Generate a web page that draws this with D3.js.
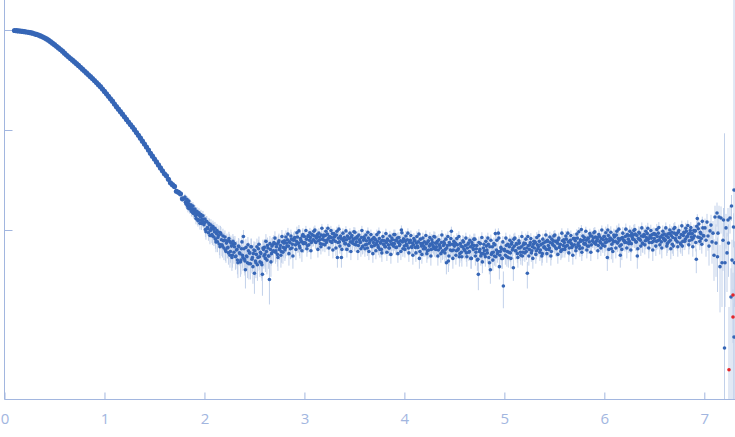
<!DOCTYPE html>
<html>
<head>
<meta charset="utf-8">
<script src="https://cdn.jsdelivr.net/npm/d3@7"></script>
<style>
  html, body { margin: 0; padding: 0; background: #fff; }
  svg { display: block; }
</style>
</head>
<body>
<div id="chart"></div>
<script>
// scattering curve, intensity relative to I(0) = 1000

// low q part, sampled every 0.02
const smoothQ0 = 0.10, smoothStep = 0.02;
const smoothI = [
  988, 984, 979, 975, 968, 962, 955, 948, 940, 929,
  916, 904, 889, 873, 855, 836, 815, 791, 764, 738,
  713, 687, 662, 638, 614, 587, 562, 540, 519, 499,
  479, 460, 442, 424, 406, 389, 372, 356, 341, 327,
  312, 298, 284, 271, 257, 243, 230, 217, 205, 194,
  182, 171, 161.4, 152.4, 143.9, 135.5, 127.6, 120.2, 113.2, 106.9,
  100.7, 94.4, 88.5, 82.8, 77.4, 72.4, 67.6, 63.0, 58.5, 54.7,
  51.2, 47.9, 44.7, 41.8, 39.1, 36.5, 34.8, 32.1, 29.6, 28.4,
  27.3, 24.4, 23.8, 23.0, 20.5
];

// noisy part from q = 1.80 to 6.99, sampled every 0.01
const noisyQ0 = 1.80, noisyStep = 0.01;
const noisyI = [
  20.6, 18.9, 19.3, 17.5, 18.4, 16.2, 17.3, 15.4, 16.3, 14.6,
  15.3, 13.9, 14.6, 12.8, 14.1, 12.6, 13.5, 11.6, 12.9, 12.1,
  11.8, 10.1, 12.2, 10.6, 9.4, 11.3, 9.9, 10.4, 8.7, 10.2,
  9.6, 8.1, 9.2, 7.6, 8.8, 7.2, 9.4, 8.0, 6.9, 7.8,
  7.9, 6.3, 7.4, 6.6, 5.9, 7.7, 6.1, 6.9, 5.6, 7.2,
  6.8, 5.4, 6.3, 5.0, 6.9, 5.9, 4.8, 6.5, 5.6, 8.6,
  5.1, 4.0, 5.5, 4.7, 6.2, 5.9, 4.6, 6.8, 5.3, 5.8,
  3.7, 4.9, 5.7, 4.5, 6.5, 5.4, 6.0, 4.7, 3.6, 6.4,
  6.7, 5.2, 6.1, 7.0, 5.5, 3.2, 6.4, 5.8, 7.1, 6.2,
  7.3, 6.0, 6.8, 5.7, 7.5, 6.4, 7.0, 6.1, 7.6, 6.7,
  7.8, 6.6, 7.4, 8.0, 6.9, 7.6, 6.5, 8.1, 7.2, 7.9,
  8.3, 7.1, 7.7, 8.5, 7.4, 6.9, 8.2, 7.6, 8.7, 7.3,
  8.6, 7.4, 8.1, 7.0, 8.8, 7.9, 8.4, 7.5, 8.9, 8.0,
  8.7, 7.6, 8.3, 9.0, 7.8, 8.5, 7.3, 8.9, 8.1, 8.6,
  7.9, 8.8, 7.5, 9.1, 8.2, 8.6, 7.7, 8.4, 9.2, 8.0,
  8.5, 7.7, 8.9, 5.3, 8.3, 7.6, 8.7, 5.3, 8.1, 7.8,
  8.4, 7.3, 8.0, 8.7, 7.1, 8.2, 7.6, 8.5, 7.4, 8.1,
  7.2, 8.3, 7.6, 8.6, 7.0, 8.0, 7.5, 8.4, 6.8, 7.9,
  8.2, 7.1, 7.8, 6.6, 8.3, 7.4, 7.9, 6.9, 8.1, 7.5,
  7.0, 8.0, 7.3, 7.7, 6.7, 8.2, 7.4, 6.4, 7.9, 7.2,
  7.8, 6.8, 7.5, 8.1, 7.1, 6.6, 7.7, 7.2, 8.0, 6.9,
  7.3, 7.9, 6.7, 8.3, 7.5, 7.0, 7.8, 10.0, 7.6, 8.1,
  6.9, 7.7, 7.2, 8.0, 6.6, 7.5, 7.9, 6.8, 7.4, 7.1,
  7.8, 6.7, 7.4, 6.9, 7.6, 5.2, 8.1, 6.9, 7.3, 6.5,
  7.6, 6.6, 7.3, 6.2, 7.8, 6.9, 7.2, 6.4, 7.5, 6.8,
  6.5, 7.4, 6.8, 7.7, 6.3, 7.1, 6.6, 7.5, 6.1, 7.0,
  7.3, 6.4, 4.7, 7.0, 4.9, 7.5, 6.3, 9.7, 7.2, 6.3,
  6.9, 7.4, 6.2, 7.1, 6.5, 5.4, 7.3, 6.0, 6.8, 7.6,
  6.3, 7.0, 5.9, 6.6, 7.4, 6.1, 6.8, 5.2, 7.1, 6.4,
  7.0, 5.5, 6.5, 5.0, 3.6, 6.1, 7.3, 5.8, 4.8, 6.6,
  6.2, 5.4, 6.9, 5.9, 7.2, 4.7, 4.0, 5.7, 6.8, 6.0,
  5.5, 9.2, 6.3, 5.8, 9.3, 4.3, 6.1, 6.5, 5.2, 2.75,
  6.4, 5.6, 7.0, 6.1, 5.3, 6.8, 5.9, 7.2, 6.3, 4.2,
  6.9, 6.2, 7.3, 5.8, 6.6, 7.4, 6.0, 6.8, 5.5, 7.1,
  6.5, 7.3, 6.1, 3.7, 7.0, 6.4, 7.5, 5.9, 6.8, 7.2,
  6.6, 7.5, 6.2, 7.1, 6.8, 7.7, 6.3, 7.2, 5.8, 7.4,
  6.8, 7.6, 6.4, 7.9, 7.0, 6.6, 7.5, 6.1, 7.3, 7.8,
  6.9, 7.7, 6.5, 7.4, 8.0, 6.7, 7.2, 6.3, 7.8, 7.0,
  7.5, 6.8, 8.1, 7.0, 7.6, 6.6, 7.9, 7.3, 6.9, 8.2,
  7.1, 7.8, 6.7, 8.3, 7.4, 6.9, 8.0, 10.1, 6.6, 7.9,
  8.4, 7.3, 7.9, 6.9, 8.2, 7.6, 8.7, 7.1, 7.8, 8.3,
  7.4, 8.5, 7.7, 8.1, 7.0, 8.6, 7.5, 8.2, 7.2, 8.0,
  8.6, 7.5, 8.1, 5.3, 8.8, 7.8, 8.3, 6.5, 8.0, 7.6,
  8.5, 7.7, 8.9, 7.4, 8.2, 7.9, 5.6, 7.1, 8.4, 8.0,
  7.8, 8.6, 7.5, 9.0, 8.1, 7.7, 8.8, 7.3, 8.4, 8.9,
  8.0, 9.1, 7.6, 5.5, 8.2, 9.3, 7.9, 8.7, 7.4, 8.6,
  8.9, 7.8, 8.4, 9.2, 8.1, 7.5, 8.8, 8.3, 9.0, 7.7,
  8.2, 9.0, 7.7, 8.6, 9.3, 8.0, 8.5, 7.6, 8.9, 8.3,
  9.1, 8.0, 8.7, 7.3, 8.4, 9.2, 7.9, 8.8, 7.2, 6.9,
  9.3, 8.2, 8.9, 7.6, 9.5, 8.4, 7.4, 9.0, 6.9, 8.8,
  9.4, 8.1, 9.7, 8.6, 9.1, 7.8, 9.9, 8.5, 9.2, 8.3,
  8.7, 9.8, 5.1, 13.0, 10.3, 8.4, 9.5, 8.2, 12.2, 8.8
];

// the points in between, q = 1.805 to 6.995
const midQ0 = 1.805, midStep = 0.01;
const midI = [
  21.4, 18.2, 20.3, 16.6, 19.5, 16.8, 17.9, 15.1, 17.4, 15.9,
  16.2, 13.0, 15.4, 12.4, 14.9, 11.7, 14.3, 12.2, 13.9, 11.3,
  12.9, 9.6, 12.1, 10.3, 11.6, 8.8, 11.2, 9.0, 10.8, 8.5,
  10.4, 7.6, 9.9, 8.4, 9.5, 6.8, 9.1, 7.1, 8.7, 6.6,
  8.5, 6.1, 7.8, 6.7, 8.2, 5.6, 7.4, 5.3, 7.7, 6.0,
  7.3, 5.5, 6.4, 4.7, 6.8, 5.8, 5.0, 7.6, 5.3, 6.5,
  4.9, 6.7, 5.4, 7.1, 4.6, 5.9, 6.8, 5.1, 4.3, 6.3,
  6.2, 4.7, 6.8, 5.3, 7.2, 4.8, 5.8, 4.5, 6.6, 5.5,
  5.7, 7.7, 5.0, 6.6, 5.5, 7.3, 4.8, 6.9, 6.1, 7.5,
  8.3, 6.2, 7.2, 5.3, 7.8, 6.6, 5.6, 8.6, 6.0, 7.4,
  6.3, 8.5, 6.9, 9.1, 5.8, 7.5, 8.7, 6.6, 5.5, 8.1,
  8.4, 6.4, 9.4, 7.3, 9.8, 6.6, 7.9, 6.2, 9.0, 7.5,
  7.4, 9.9, 6.5, 8.6, 7.1, 9.4, 6.2, 9.0, 7.9, 9.7,
  10.0, 7.5, 8.7, 6.4, 9.3, 8.0, 6.8, 10.4, 7.2, 8.9,
  7.1, 9.7, 7.9, 10.4, 6.6, 8.5, 9.9, 7.5, 6.3, 9.2,
  8.7, 6.6, 9.7, 7.5, 10.2, 6.9, 8.2, 6.4, 9.3, 7.8,
  7.3, 9.8, 6.4, 8.5, 7.0, 9.3, 6.1, 8.8, 7.8, 9.6,
  9.5, 7.1, 8.3, 6.1, 8.9, 7.6, 6.5, 9.9, 6.9, 8.5,
  6.5, 8.9, 7.2, 9.5, 6.1, 7.8, 9.0, 6.8, 5.8, 8.4,
  8.1, 6.2, 9.0, 7.0, 9.5, 6.4, 7.6, 5.9, 8.6, 7.2,
  6.8, 9.2, 6.0, 7.9, 6.6, 8.7, 5.7, 8.3, 7.3, 9.0,
  9.0, 6.7, 7.8, 5.8, 8.4, 7.2, 6.1, 9.4, 6.5, 8.1,
  6.4, 8.7, 7.0, 9.3, 5.9, 7.6, 8.8, 6.7, 5.6, 8.2,
  7.8, 5.9, 8.6, 6.7, 9.1, 6.1, 7.3, 5.7, 8.3, 6.9,
  6.5, 8.8, 5.8, 7.6, 6.3, 8.4, 5.5, 8.0, 7.0, 8.6,
  8.5, 6.4, 7.4, 5.5, 8.0, 6.8, 5.8, 8.9, 6.2, 7.6,
  5.9, 8.1, 6.6, 8.6, 5.5, 7.1, 8.2, 6.2, 5.2, 7.7,
  7.3, 5.6, 8.2, 6.3, 8.6, 5.8, 6.9, 5.4, 7.8, 6.5,
  6.2, 8.3, 5.4, 7.2, 6.0, 7.9, 5.2, 7.5, 6.6, 8.1,
  8.1, 6.0, 7.0, 5.1, 7.5, 6.4, 5.5, 8.4, 5.8, 7.2,
  5.7, 7.7, 6.3, 8.3, 5.3, 6.8, 7.9, 5.9, 5.0, 7.3,
  7.1, 5.4, 7.9, 6.1, 8.3, 5.6, 6.7, 5.2, 7.6, 6.3,
  6.2, 8.3, 5.4, 7.2, 6.0, 7.9, 5.2, 7.5, 6.6, 8.1,
  8.3, 6.2, 7.2, 5.3, 7.8, 6.6, 5.6, 8.6, 6.0, 7.4,
  5.9, 8.1, 6.6, 8.6, 5.5, 7.1, 8.2, 6.2, 5.2, 7.7,
  7.6, 5.7, 8.4, 6.5, 8.8, 6.0, 7.1, 5.5, 8.1, 6.7,
  6.6, 8.9, 5.8, 7.7, 6.4, 8.5, 5.5, 8.1, 7.1, 8.7,
  8.9, 6.6, 7.7, 5.7, 8.3, 7.1, 6.1, 9.3, 6.4, 8.0,
  6.4, 8.7, 7.0, 9.3, 5.9, 7.6, 8.8, 6.7, 5.6, 8.2,
  8.2, 6.2, 9.1, 7.1, 9.6, 6.5, 7.7, 6.0, 8.7, 7.3,
  7.2, 9.7, 6.3, 8.3, 6.9, 9.2, 6.0, 8.7, 7.7, 9.4,
  9.6, 7.2, 8.4, 6.2, 9.0, 7.7, 6.6, 10.0, 7.0, 8.6,
  6.9, 9.4, 7.6, 10.0, 6.4, 8.2, 9.5, 7.2, 6.1, 8.9,
  8.7, 6.6, 9.7, 7.5, 10.2, 6.9, 8.2, 6.4, 9.3, 7.8,
  7.5, 10.2, 6.6, 8.8, 7.3, 9.7, 6.3, 9.2, 8.1, 9.9,
  10.1, 7.6, 8.8, 6.5, 9.5, 8.1, 6.9, 10.5, 7.3, 9.0,
  7.1, 9.7, 7.9, 10.4, 6.6, 8.5, 9.9, 7.5, 6.3, 9.2,
  9.1, 6.9, 10.1, 7.8, 10.6, 7.1, 8.5, 6.6, 9.7, 8.1,
  7.8, 10.5, 6.9, 9.1, 7.6, 10.0, 6.5, 9.5, 8.4, 10.3,
  10.6, 7.9, 9.2, 6.8, 9.9, 8.4, 7.2, 11.0, 7.7, 9.5,
  7.7, 10.4, 8.5, 11.1, 7.1, 9.2, 10.6, 8.0, 6.8, 9.9,
  9.8, 7.5, 10.9, 8.5, 11.5, 7.7, 9.2, 7.2, 10.5, 8.7
];

// absolute error of the main curve, by q range
const sigmaEdges = [0.10, 1.00, 1.50, 1.80, 2.20, 3.00, 6.00];
const sigmaVals  = [3.0, 1.5, 1.2, 1.6, 1.4, 1.1, 1.4];

// high q end, read point by point
const tailQ = [
  7.007, 7.017, 7.027, 7.037, 7.047, 7.057, 7.067, 7.077, 7.087, 7.097,
  7.107, 7.117, 7.127, 7.132, 7.137, 7.147, 7.157, 7.167, 7.177, 7.187,
  7.192, 7.202, 7.207, 7.217, 7.227, 7.237, 7.242, 7.247, 7.257, 7.267,
  7.272, 7.277, 7.287, 7.287, 7.292, 7.297, 7.297, 7.302
];
const tailI = [
  10.5, 7.9, 12.0, 8.7, 6.9, 9.8, 11.2, 7.6, 9.3, 5.6,
  13.5, 7.4, 14.8, 5.4, 9.3, 13.5, 4.3, 13.2, 4.7, 7.9,
  12.6, 0.66, 4.7, 10.5, 5.9, 12.6, 7.4, 0.40, 13.2, 2.14,
  17.4, 5.0, 2.24, 1.35, 10.7, 25.1, 0.85, 4.7
];
const tailErr = [
  2.5, 2.5, 2.5, 2.5, 2.5, 2.5, 3, 3, 3, 2.5,
  4, 4, 4, 3, 4, 4, 2.8, 4, 3, 4,
  4, 92, 3, 4, 3.5, 4, 4, 1.3, 4, 2,
  5, 3, 1.5, 1.2, 4, 3000, 1, 3
];
const tailRed = [
  0, 0, 0, 0, 0, 0, 0, 0, 0, 0,
  0, 0, 0, 0, 0, 0, 0, 0, 0, 0,
  0, 0, 0, 0, 0, 0, 0, 1, 0, 0,
  0, 0, 1, 1, 0, 0, 0, 0
];

const xTicks = [0, 1, 2, 3, 4, 5, 6, 7];
const yTicks = [1000, 100, 10];

let
    width = 735,
    height = 437,
    left = 4.5,
    bottom = 399.5,
    blue = '#3666b6',
    red = '#e3262b',
    errColor = '#c2d1ea',
    axisColor = '#a2b6df';

function sigmaAt(q) {
    let s = sigmaVals[0];
    for (let i = 0; i < sigmaEdges.length; i++) {
        if (q >= sigmaEdges[i]) s = sigmaVals[i];
    }
    return s;
}

let points = [];
smoothI.forEach((v, i) => {
    let q = smoothQ0 + i * smoothStep;
    points.push({ q: q, I: v, e: sigmaAt(q), r: 2.6, red: false });
});
noisyI.forEach((v, i) => {
    let q = noisyQ0 + i * noisyStep;
    points.push({ q: q, I: v, e: sigmaAt(q), r: 1.8, red: false });
});
midI.forEach((v, i) => {
    let q = midQ0 + i * midStep;
    points.push({ q: q, I: v, e: sigmaAt(q), r: 1.8, red: false });
});
tailQ.forEach((q, i) => {
    points.push({ q: q, I: tailI[i], e: tailErr[i], r: 1.8, red: tailRed[i] === 1 });
});

let x = d3.scaleLinear().domain([0, 7.307]).range([left, width]);
let y = d3.scaleLog().domain([Math.pow(10, -0.695), Math.pow(10, 3.3)]).range([bottom, 0]);

let svg = d3.select('#chart')
    .append('svg')
    .attr('width', width)
    .attr('height', height);

function yClamp(v) {
    if (v <= 0) return bottom;
    return Math.max(0, Math.min(bottom, y(v)));
}

// error bars
svg.append('g')
    .selectAll('line')
    .data(points)
    .join('line')
    .attr('x1', d => x(d.q))
    .attr('x2', d => x(d.q))
    .attr('y1', d => yClamp(d.I + d.e))
    .attr('y2', d => yClamp(d.I - d.e))
    .style('stroke', errColor)
    .style('stroke-width', 1);

// axes
let xAxis = svg.append('g')
    .attr('transform', `translate(0,${bottom})`)
    .call(d3.axisBottom(x).tickValues(xTicks).tickSizeInner(-7).tickSizeOuter(0).tickPadding(14).tickFormat(d3.format('d')));

let yAxis = svg.append('g')
    .attr('transform', `translate(${left},0)`)
    .call(d3.axisLeft(y).tickValues(yTicks).tickSizeInner(-8).tickSizeOuter(0).tickFormat(''));

[xAxis, yAxis].forEach(a => {
    a.select('.domain').style('stroke', axisColor);
    a.selectAll('.tick line').style('stroke', axisColor);
    a.selectAll('text')
        .style('fill', axisColor)
        .style('font-size', '15px')
        .style('font-family', '"Open Sans", sans-serif');
});
yAxis.select('.domain').attr('d', `M0,0V${bottom}`);
xAxis.select('.domain').attr('d', `M${left},0H${width}`);

// points
svg.append('g')
    .selectAll('circle')
    .data(points.filter(d => !d.red))
    .join('circle')
    .attr('cx', d => x(d.q))
    .attr('cy', d => y(d.I))
    .attr('r', d => d.r)
    .style('fill', blue);

svg.append('g')
    .selectAll('circle')
    .data(points.filter(d => d.red))
    .join('circle')
    .attr('cx', d => x(d.q))
    .attr('cy', d => y(d.I))
    .attr('r', d => d.r)
    .style('fill', red);
</script>
</body>
</html>
